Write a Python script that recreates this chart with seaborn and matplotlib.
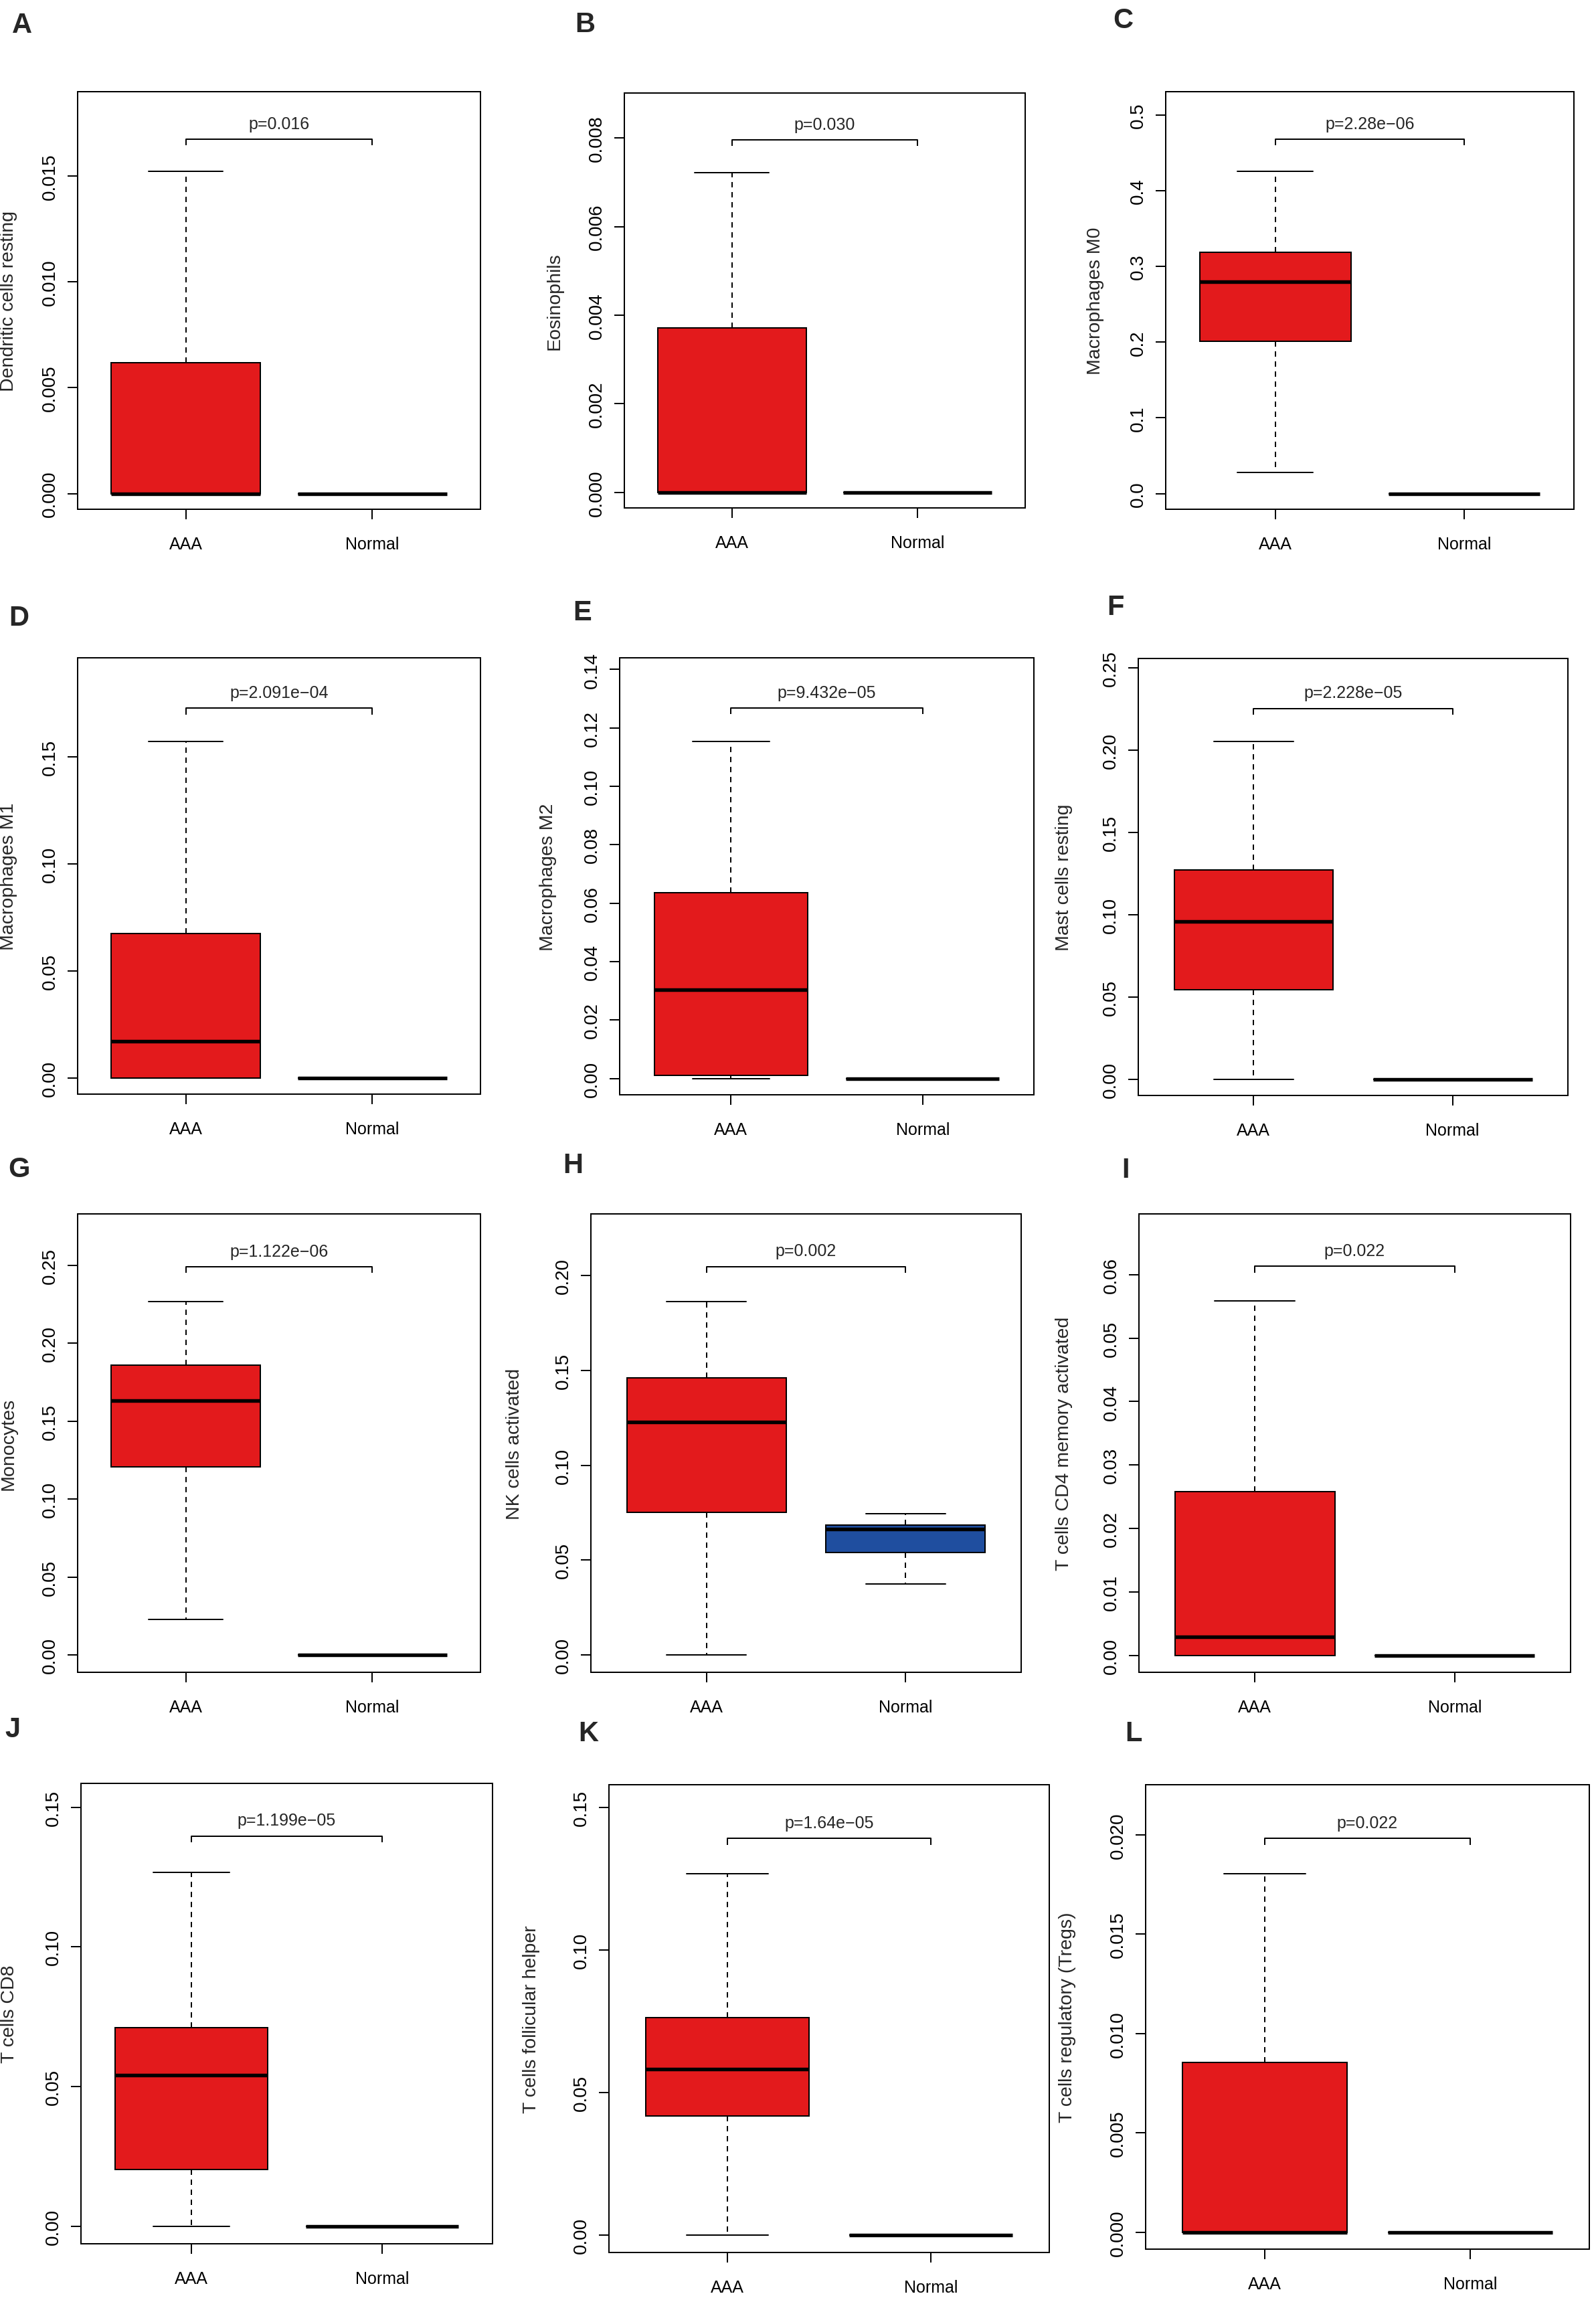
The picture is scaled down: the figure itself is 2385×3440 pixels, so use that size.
import numpy as np
import pandas as pd
import matplotlib
matplotlib.use("Agg")
import matplotlib.pyplot as plt
import seaborn as sns

# ---------------- data ----------------
groups = ["AAA", "Normal"]
panel_letters = ["A", "B", "C", "D", "E", "F", "G", "H", "I", "J", "K", "L"]
cell_types = ["Dendritic cells resting", "Eosinophils", "Macrophages M0",
              "Macrophages M1", "Macrophages M2", "Mast cells resting",
              "Monocytes", "NK cells activated", "T cells CD4 memory activated",
              "T cells CD8", "T cells follicular helper", "T cells regulatory (Tregs)"]
p_labels = ["p=0.016", "p=0.030", "p=2.28e\u221206", "p=2.091e\u221204",
            "p=9.432e\u221205", "p=2.228e\u221205", "p=1.122e\u221206", "p=0.002",
            "p=0.022", "p=1.199e\u221205", "p=1.64e\u221205", "p=0.022"]

# five-number summaries of the AAA group
aaa_min = [0, 0, 0.0278, 0, 0, 0, 0.0228, 0, 0, 0, 0, 0]
aaa_q1 = [0, 0, 0.2011, 0, 0.0011, 0.0544, 0.1208, 0.0753, 0, 0.0204, 0.0417, 0]
aaa_med = [0, 0, 0.2802, 0.0171, 0.0304, 0.0960, 0.1634, 0.1228, 0.0029, 0.0542, 0.0581, 0]
aaa_q3 = [0.00617, 0.00372, 0.3190, 0.0673, 0.0636, 0.1274, 0.1862, 0.1461, 0.0258, 0.0712, 0.0763, 0.00856]
aaa_max = [0.01522, 0.00722, 0.4253, 0.1573, 0.1154, 0.2051, 0.2270, 0.1862, 0.0559, 0.1267, 0.1266, 0.01803]

# five-number summaries of the Normal group
normal_min = [0, 0, 0, 0, 0, 0, 0, 0.0375, 0, 0, 0, 0]
normal_q1 = [0, 0, 0, 0, 0, 0, 0, 0.0539, 0, 0, 0, 0]
normal_med = [0, 0, 0, 0, 0, 0, 0, 0.0662, 0, 0, 0, 0]
normal_q3 = [0, 0, 0, 0, 0, 0, 0, 0.0683, 0, 0, 0, 0]
normal_max = [0, 0, 0, 0, 0, 0, 0, 0.0746, 0, 0, 0, 0]

# height of the significance bracket
bracket_y = [0.01675, 0.00795, 0.4679, 0.1727, 0.1268, 0.2254, 0.2493, 0.2048,
             0.06136, 0.1397, 0.1391, 0.01983]

# y-axis ranges
y_low = [-0.00074, -0.00035, -0.0206, -0.0076, -0.0056, -0.0097, -0.0112, -0.0092,
         -0.00269, -0.0062, -0.0061, -0.00085]
y_high = [0.01899, 0.009014, 0.5307, 0.1963, 0.1440, 0.2557, 0.2831, 0.2325,
          0.0696, 0.1585, 0.1579, 0.02252]

# y tick labels
ytick_labels = [
    ["0.000", "0.005", "0.010", "0.015"],
    ["0.000", "0.002", "0.004", "0.006", "0.008"],
    ["0.0", "0.1", "0.2", "0.3", "0.4", "0.5"],
    ["0.00", "0.05", "0.10", "0.15"],
    ["0.00", "0.02", "0.04", "0.06", "0.08", "0.10", "0.12", "0.14"],
    ["0.00", "0.05", "0.10", "0.15", "0.20", "0.25"],
    ["0.00", "0.05", "0.10", "0.15", "0.20", "0.25"],
    ["0.00", "0.05", "0.10", "0.15", "0.20"],
    ["0.00", "0.01", "0.02", "0.03", "0.04", "0.05", "0.06"],
    ["0.00", "0.05", "0.10", "0.15"],
    ["0.00", "0.05", "0.10", "0.15"],
    ["0.000", "0.005", "0.010", "0.015", "0.020"],
]

group_colors = {"AAA": "#E31A1C", "Normal": "#1F4E9F"}

# ---------------- layout (pixels of the 2385 x 3441 canvas) ----------------
W, H = 2385, 3441
axes_px = [  # left, right, top, bottom
    (116, 718, 138, 762), (933, 1532, 140, 760), (1742, 2352, 138, 762),
    (116, 718, 984, 1636), (926, 1545, 984, 1637), (1701, 2343, 985, 1638),
    (116, 718, 1815, 2500), (883, 1526, 1815, 2500), (1702, 2347, 1815, 2500),
    (121, 736, 2666, 3354), (910, 1568, 2668, 3367), (1712, 2375, 2668, 3362),
]
ylabel_offset_px = [103, 104, 105, 103, 107, 111, 103, 114, 112, 107, 116, 117]
letter_px = [(33, 38), (874, 37), (1678, 31), (28, 924), (870, 916), (1667, 908),
             (29, 1748), (856, 1742), (1682, 1749), (19, 2585), (879, 2591), (1694, 2591)]

sns.set_theme(style="ticks")
plt.rcParams["font.family"] = ["Liberation Sans", "DejaVu Sans"]
plt.rcParams["axes.edgecolor"] = "black"
plt.rcParams["axes.linewidth"] = 1.44

FS_X = 18
FS_Y = 20
FS_LAB = 20.5
FS_P = 18
LW = 1.44

fig = plt.figure(figsize=(W / 100, H / 100), dpi=100)
fig.patch.set_facecolor("white")

for i in range(12):
    l, r, t, b = axes_px[i]
    ax = fig.add_axes([l / W, 1 - b / H, (r - l) / W, (b - t) / H])
    values = ([aaa_min[i], aaa_q1[i], aaa_med[i], aaa_q3[i], aaa_max[i]] +
              [normal_min[i], normal_q1[i], normal_med[i], normal_q3[i], normal_max[i]])
    df = pd.DataFrame({"group": ["AAA"] * 5 + ["Normal"] * 5, "value": values})
    sns.boxplot(data=df, x="group", y="value", hue="group", order=groups,
                hue_order=groups, palette=group_colors, saturation=1,
                width=0.8, whis=(0, 100), showfliers=False, legend=False,
                linecolor="black", linewidth=LW, ax=ax,
                medianprops=dict(color="black", linewidth=3.9, solid_capstyle="butt"),
                whiskerprops=dict(color="black", linewidth=LW, linestyle=(0, (4, 3.5))),
                capprops=dict(color="black", linewidth=LW))
    ax.set_xlim(-0.58, 1.58)
    ax.set_ylim(y_low[i], y_high[i])
    ticks = [float(s) for s in ytick_labels[i]]
    ax.set_yticks(ticks)
    ax.set_yticklabels(ytick_labels[i])
    ax.set_xlabel("")
    ax.set_ylabel(cell_types[i], fontsize=FS_LAB)
    ax.yaxis.label.set_va("center")
    ax.yaxis.set_label_coords(-ylabel_offset_px[i] / (r - l), 0.5)
    ax.tick_params(axis="both", direction="out", length=10.8, width=LW,
                   colors="black")
    ax.tick_params(axis="x", pad=18, labelsize=FS_X)
    ax.tick_params(axis="y", pad=19, labelsize=FS_Y)
    for lab in ax.get_yticklabels():
        lab.set_rotation(90)
        lab.set_ha("center")
        lab.set_va("center")
    for sp in ax.spines.values():
        sp.set_visible(True)
        sp.set_linewidth(LW)
        sp.set_color("black")
    # significance bracket
    tick = 0.014 * (y_high[i] - y_low[i])
    by = bracket_y[i]
    ax.plot([0, 0, 1, 1], [by - tick, by, by, by - tick], color="black", lw=LW,
            solid_capstyle="butt")
    ax.annotate(p_labels[i], xy=(0.5, by), xytext=(0, 8), textcoords="offset points",
                ha="center", va="bottom", fontsize=FS_P)
    lx, ly = letter_px[i]
    fig.text(lx / W, 1 - ly / H, panel_letters[i], fontsize=30, fontweight="bold",
             ha="center", va="center")

fig.savefig("out.png", dpi=100, facecolor="white")
